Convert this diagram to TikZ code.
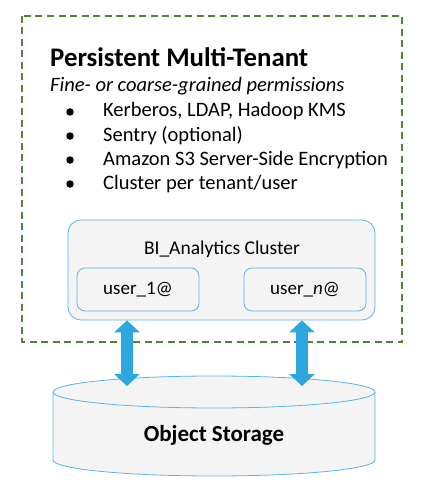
\documentclass[tikz,border=0pt]{standalone}
\usepackage{fontspec}
\setmainfont{Carlito}
\usetikzlibrary{positioning, arrows.meta}

\definecolor{tenantgreen}{HTML}{548235}
\definecolor{clusterblue}{HTML}{5AB4E5}
\definecolor{arrowblue}{HTML}{2CA7E0}
\definecolor{boxgray}{HTML}{F4F4F4}

\begin{document}
\begin{tikzpicture}[
    x=1pt, y=-1pt,
    every node/.style={font=\fontsize{20.5}{24}\selectfont, inner sep=0pt},
    tenant/.style={draw=tenantgreen, line width=1.6pt, dash pattern=on 7pt off 4.5pt},
    clusterbox/.style={draw=clusterblue, fill=boxgray, rounded corners=13pt, line width=0.8pt},
    userbox/.style={clusterbox, rounded corners=8pt, minimum width=122pt, minimum height=43pt, font=\fontsize{19}{22}\selectfont},
    item/.style={anchor=base west},
    dot/.style={circle, fill=black, minimum size=7.5pt},
    dbarrow/.style={{Triangle[width=25pt,length=12pt]}-{Triangle[width=25pt,length=12pt]}, draw=arrowblue, line width=12pt}
]
    \useasboundingbox (0,0) rectangle (431,500);

    % tenant frame and its text
    \draw [tenant] (22,16) rectangle (402,342);
    \node (title) [anchor=base west, font=\fontsize{26.8}{30}\selectfont\bfseries] at (50,67) {Persistent Multi-Tenant};
    \node (perms) [anchor=base west, font=\fontsize{20.5}{24}\selectfont\itshape] at (50,92) {Fine- or coarse-grained permissions};
    \foreach \txt [count=\i] in {{Kerberos, LDAP, Hadoop KMS}, {Sentry (optional)}, {Amazon S3 Server-Side Encryption}, {Cluster per tenant/user}} {
        \node (dot\i) [dot] at (70,{88+24*\i}) {};
        \node (item\i) [item] at (103,{117+24*(\i-1)}) {\txt};
    }

    % cluster with its users
    \node (cluster) [clusterbox, minimum width=307pt, minimum height=100pt] at (221.5,270) {};
    \node (clname) [font=\fontsize{19.5}{22}\selectfont] at (222,249) {BI\_Analytics Cluster};
    \node (user1) [userbox] at (138,289.5) {user\_1@};
    \node (usern) [userbox] at (305,289.5) {user\_\textit{n}@};

    % object storage
    \fill [boxgray] (53,392) -- (53,460) arc (180:0:161 and 16) -- (375,392) -- cycle;
    \draw [clusterblue, line width=0.8pt] (53,392) -- (53,460) arc (180:0:161 and 16) -- (375,392);
    \draw [clusterblue, fill=boxgray, line width=0.8pt] (214,392) ellipse (161 and 16);
    \node (storage) [font=\fontsize{23}{26}\selectfont\bfseries] at (214,435) {Object Storage};

    \coordinate (dock1) at (127,386);
    \coordinate (dockn) at (302,386);
    \draw [dbarrow] (dock1 |- cluster.south) -- (dock1);
    \draw [dbarrow] (dockn |- cluster.south) -- (dockn);
\end{tikzpicture}
\end{document}
